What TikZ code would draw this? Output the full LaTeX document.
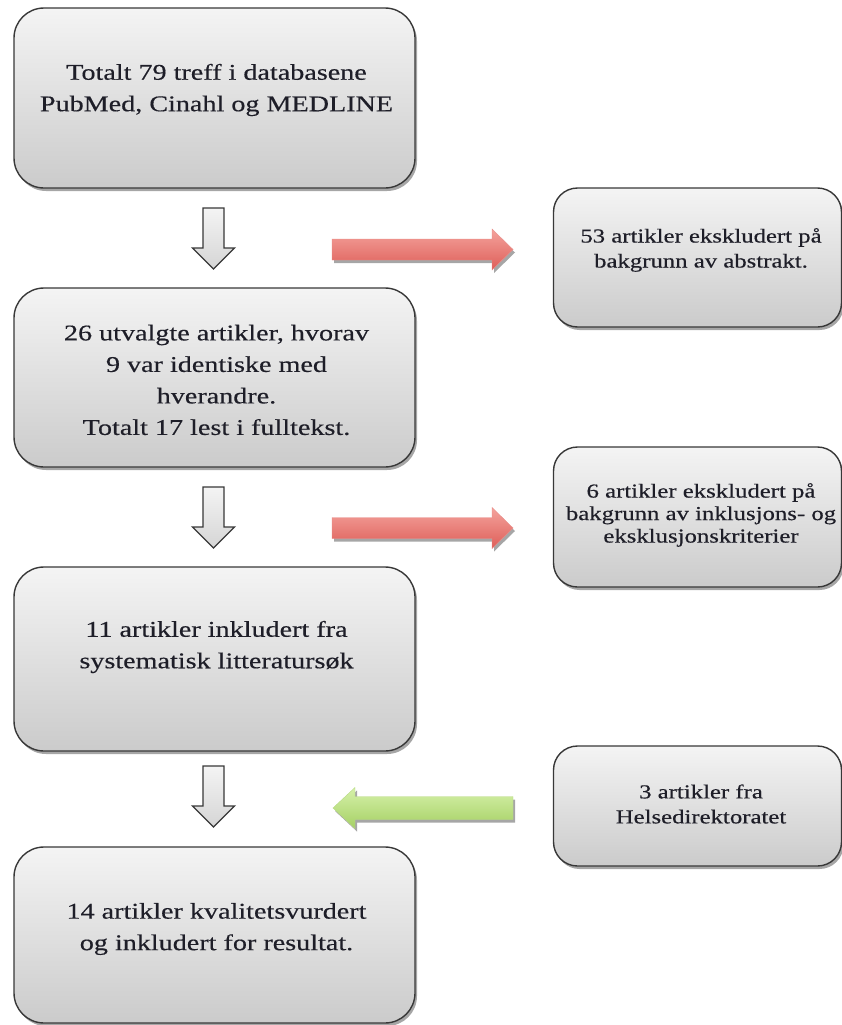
\documentclass[tikz,border=0pt]{standalone}
\usepackage{fontspec}
\setmainfont{Liberation Serif}[FakeStretch=1.25,FakeBold=0.4]
\usetikzlibrary{shadows,calc}
\definecolor{boxtop}{HTML}{F4F4F4}
\definecolor{boxbot}{HTML}{CBCBCB}
\definecolor{edge}{HTML}{383838}
\definecolor{redtop}{HTML}{F4A39D}
\definecolor{redbot}{HTML}{DE5E58}
\definecolor{grntop}{HTML}{D6F1AA}
\definecolor{grnbot}{HTML}{A5D064}
\definecolor{txt}{HTML}{1E1E28}
\begin{document}
\begin{tikzpicture}[x=1pt,y=-1pt,
  shad/.style={drop shadow={shadow xshift=2pt,shadow yshift=-3pt,opacity=0.35,fill=black}},
  mainbox/.style={draw=edge,line width=1.4pt,rounded corners=30pt,top color=boxtop,bottom color=boxbot,shad,minimum width=401pt,inner sep=0pt},
  sidebox/.style={draw=edge,line width=1.4pt,rounded corners=24pt,top color=boxtop,bottom color=boxbot,shad,minimum width=288pt,inner sep=0pt},
  maintext/.style={align=center,text=txt,font=\fontsize{22.5}{31.5}\selectfont,inner sep=0pt},
  sidetext/.style={align=center,text=txt,font=\fontsize{19.8}{25}\selectfont,inner sep=0pt},
  hollow/.style={draw=edge,line width=1.3pt,line join=miter,top color=boxtop,bottom color=boxbot!80},
  redarr/.style={top color=redtop,bottom color=redbot,draw=redbot!70,line width=0.4pt,shad},
  grnarr/.style={top color=grntop,bottom color=grnbot,draw=grnbot!80,line width=0.4pt,shad},
  downarr/.pic={\path[hollow] (-10.5,0) -- (10.5,0) -- (10.5,40) -- (21,40) -- (0,61) -- (-21,40) -- (-10.5,40) -- cycle;},
  rightarr/.pic={\path[redarr] (0,-10.5) -- (160,-10.5) -- (160,-20.5) -- (181,0) -- (160,20.5) -- (160,10.5) -- (0,10.5) -- cycle;},
  leftarr/.pic={\path[grnarr] (0,0) -- (22,-20.5) -- (22,-11.5) -- (180,-11.5) -- (180,11.5) -- (22,11.5) -- (22,20.5) -- cycle;}
]
\useasboundingbox (0,0) rectangle (842,1025);
% main boxes
\node[mainbox,minimum height=180pt] (b1) at (214.5,98) {};
\node[mainbox,minimum height=179pt] (b2) at (214.5,377.5) {};
\node[mainbox,minimum height=184pt] (b3) at (214.5,659) {};
\node[mainbox,minimum height=176pt] (b4) at (214.5,935) {};
% side boxes
\node[sidebox,minimum height=139pt] (s1) at (697.5,257.5) {};
\node[sidebox,minimum height=140pt] (s2) at (697.5,517) {};
\node[sidebox,minimum height=120pt] (s3) at (697.5,806) {};
% texts
\node[maintext] (t1) at (216.5,90) {Totalt 79 treff i databasene\\PubMed, Cinahl og MEDLINE};
\node[maintext] (t2) at (216.5,380) {26 utvalgte artikler, hvorav\\9 var identiske med\\hverandre.\\Totalt 17 lest i fulltekst.};
\node[maintext] (t3) at (216.5,647) {11 artikler inkludert fra\\systematisk litteratursøk};
\node[maintext] (t4) at (216.5,929) {14 artikler kvalitetsvurdert\\og inkludert for resultat.};
\node[sidetext] (u1) at (701,250) {53 artikler ekskludert på\\bakgrunn av abstrakt.};
\node[sidetext,font=\fontsize{19.8}{22.5}\selectfont] (u2) at (701,515) {6 artikler ekskludert på\\bakgrunn av inklusjons- og\\eksklusjonskriterier};
\node[sidetext] (u3) at (701,804) {3 artikler fra\\Helsedirektoratet};
% arrows
\pic at (213.5,208) {downarr};
\pic at (213.5,487) {downarr};
\pic at (213.5,766) {downarr};
\pic at (332,249.5) {rightarr};
\pic at (332,528) {rightarr};
\pic at (333,808) {leftarr};
\end{tikzpicture}
\end{document}
